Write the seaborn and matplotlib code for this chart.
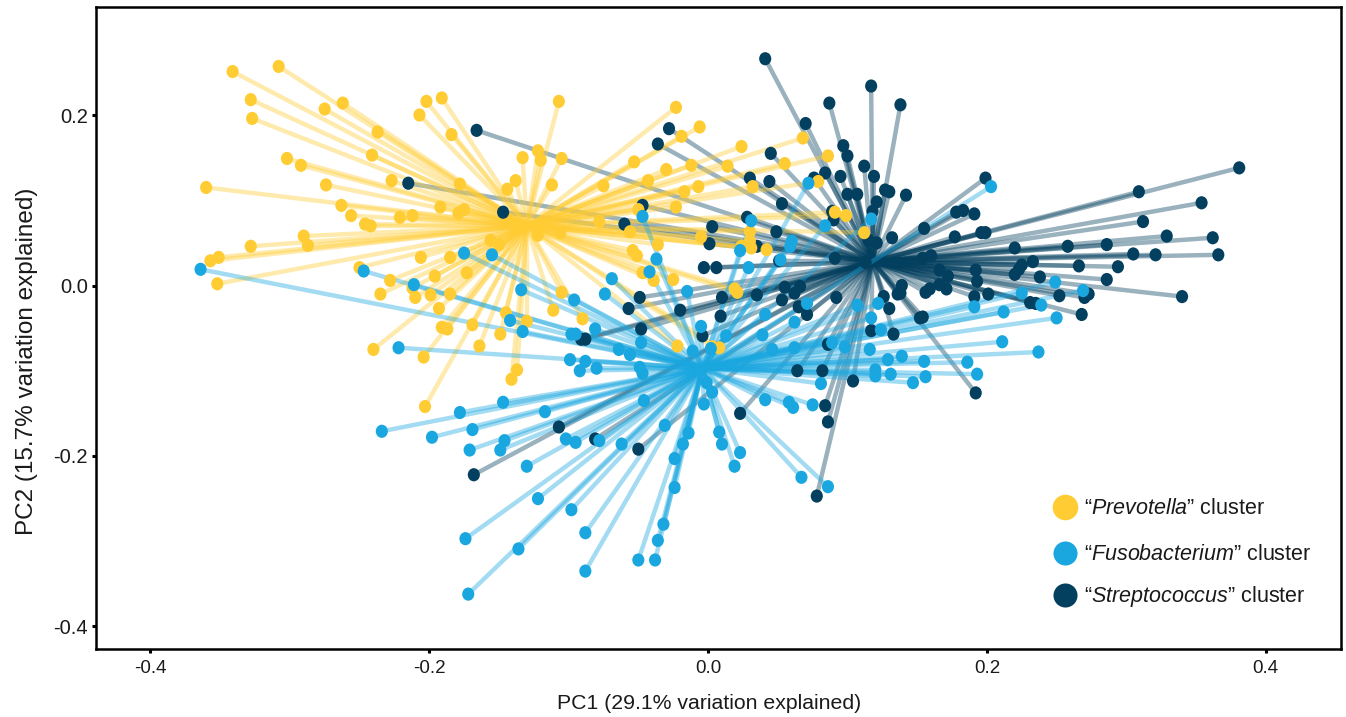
import matplotlib
matplotlib.use("Agg")
import matplotlib.pyplot as plt
import numpy as np
import pandas as pd
import seaborn as sns
from matplotlib.path import Path
from matplotlib.transforms import Affine2D

# PC scores
prev_x = [-0.341,-0.308,-0.328,-0.327,-0.275,-0.262,-0.237,-0.241,-0.202,-0.191,-0.207,-0.184,-0.107,-0.122,-0.133,-0.120,-0.105,-0.302,-0.292,-0.227,
          -0.178,-0.138,-0.144,-0.112,-0.360,-0.274,-0.263,-0.192,-0.175,-0.179,-0.256,-0.221,-0.212,-0.246,-0.242,-0.290,-0.287,-0.328,-0.351,-0.357,
          -0.156,-0.150,-0.122,-0.106,-0.206,-0.185,-0.250,-0.196,-0.173,-0.352,-0.228,-0.235,-0.210,-0.212,-0.199,-0.185,-0.193,-0.191,-0.187,-0.169,
          -0.149,-0.145,-0.130,-0.105,-0.111,-0.240,-0.204,-0.164,-0.137,-0.141,-0.203,-0.090,-0.023,-0.006,-0.019,0.024,0.068,0.086,-0.053,-0.030,
          -0.012,0.014,0.055,-0.075,-0.043,-0.017,-0.007,0.032,0.079,-0.023,-0.050,-0.078,0.091,0.099,-0.056,-0.036,-0.005,0.030,0.030,0.112,
          -0.054,-0.051,0.042,0.031,0.024,-0.047,-0.039,-0.025,0.019,0.021,-0.022,0.008,0.003]
prev_y = [0.251,0.257,0.218,0.196,0.207,0.214,0.180,0.153,0.216,0.220,0.200,0.177,0.216,0.158,0.150,0.147,0.149,0.149,0.141,0.123,
          0.119,0.123,0.113,0.118,0.115,0.118,0.094,0.092,0.089,0.085,0.082,0.080,0.082,0.072,0.070,0.058,0.047,0.046,0.033,0.029,
          0.053,0.048,0.059,0.062,0.033,0.033,0.021,0.011,0.015,0.002,0.006,-0.010,-0.014,-0.003,-0.011,-0.010,-0.027,-0.049,-0.051,-0.046,
          -0.057,-0.032,-0.042,-0.008,-0.029,-0.075,-0.084,-0.071,-0.099,-0.110,-0.142,-0.039,0.209,0.186,0.175,0.163,0.173,0.152,0.145,0.136,
          0.141,0.140,0.143,0.117,0.123,0.110,0.116,0.116,0.122,0.092,0.089,0.075,0.086,0.082,0.063,0.048,0.057,0.063,0.052,0.062,
          0.041,0.035,0.042,0.044,0.046,0.015,0.006,0.007,-0.004,-0.008,-0.071,-0.073,-0.072]

fuso_x = [-0.364,-0.247,-0.175,-0.155,-0.211,-0.134,-0.096,-0.142,-0.133,-0.098,-0.095,-0.222,-0.099,-0.092,-0.147,-0.178,-0.117,-0.234,-0.198,-0.169,
          -0.171,-0.146,-0.149,-0.130,-0.102,-0.095,-0.078,-0.062,-0.046,-0.031,-0.014,-0.018,-0.024,-0.024,-0.122,-0.098,-0.174,-0.136,-0.088,-0.088,
          -0.172,-0.032,-0.036,-0.050,-0.038,-0.003,0.003,0.008,0.010,0.023,0.019,-0.069,-0.042,-0.074,-0.015,-0.081,-0.048,-0.064,-0.056,-0.088,
          -0.080,-0.049,-0.047,-0.011,-0.005,0.002,0.013,0.039,0.041,0.062,0.071,0.046,0.062,0.089,0.098,0.107,0.122,0.117,0.124,0.116,
          0.129,0.139,0.155,0.120,0.120,0.131,0.156,0.147,0.081,-0.001,0.041,0.058,0.061,0.075,0.067,0.086,0.072,0.117,0.084,-0.047,
          0.031,0.060,0.059,0.023,-0.037,0.052,0.029,0.203,0.249,0.225,0.269,0.191,0.212,0.239,0.250,0.211,0.237,0.186,0.193]
fuso_y = [0.019,0.017,0.038,0.036,0.001,-0.005,-0.017,-0.041,-0.054,-0.057,-0.057,-0.073,-0.087,-0.100,-0.137,-0.149,-0.148,-0.171,-0.178,-0.169,
          -0.193,-0.182,-0.193,-0.212,-0.180,-0.184,-0.182,-0.186,-0.135,-0.164,-0.173,-0.186,-0.203,-0.237,-0.250,-0.263,-0.297,-0.309,-0.290,-0.335,
          -0.362,-0.280,-0.299,-0.322,-0.322,-0.139,-0.125,-0.172,-0.186,-0.196,-0.212,0.008,0.016,-0.010,-0.007,-0.051,-0.067,-0.075,-0.081,-0.089,
          -0.097,-0.096,-0.103,-0.077,-0.048,-0.074,-0.059,-0.058,-0.034,-0.043,-0.021,-0.075,-0.073,-0.067,-0.072,-0.023,-0.021,-0.038,-0.052,-0.075,
          -0.087,-0.083,-0.089,-0.099,-0.106,-0.104,-0.107,-0.114,-0.115,-0.114,-0.134,-0.137,-0.143,-0.140,-0.225,-0.236,0.120,0.078,0.070,0.081,
          0.076,0.052,0.046,0.041,0.031,0.030,0.021,0.116,0.004,-0.009,-0.006,-0.025,-0.031,-0.023,-0.038,-0.066,-0.078,-0.090,-0.104]

strep_x = [-0.166,-0.215,-0.147,0.041,0.117,0.087,0.138,0.070,0.097,0.100,-0.028,-0.036,0.045,0.112,0.084,0.095,0.119,0.030,0.044,0.076,
           0.127,0.130,0.100,0.107,0.142,0.053,0.121,-0.047,0.118,0.089,0.090,0.028,-0.060,0.003,0.049,0.115,0.121,0.132,0.155,0.178,
           0.177,0.001,0.035,0.091,0.051,-0.003,0.006,0.113,0.154,0.160,0.166,0.172,0.139,0.055,0.066,0.381,0.309,0.354,0.312,0.329,
           0.362,0.366,0.321,0.305,0.286,0.258,0.220,0.199,0.183,0.191,0.196,0.199,0.233,0.225,0.223,0.220,0.266,0.294,0.192,0.238,
           0.193,0.286,0.166,0.171,0.159,0.156,0.191,0.201,0.252,0.273,0.270,0.340,0.231,0.235,0.268,0.138,0.152,0.154,0.192,-0.049,
           -0.057,-0.020,0.010,0.009,0.035,0.053,0.062,0.065,0.071,0.092,0.126,0.136,0.130,0.117,0.133,-0.048,-0.004,-0.091,-0.088,0.086,
           0.064,0.082,0.104,0.084,0.086,0.023,0.078,-0.050,-0.081,-0.107,-0.168]
strep_y = [0.182,0.120,0.086,0.266,0.234,0.214,0.212,0.190,0.164,0.152,0.184,0.166,0.155,0.140,0.132,0.128,0.128,0.126,0.122,0.126,
           0.112,0.110,0.107,0.107,0.106,0.096,0.098,0.094,0.087,0.087,0.077,0.080,0.072,0.069,0.063,0.053,0.050,0.056,0.067,0.086,
           0.057,0.049,0.046,0.032,0.029,0.021,0.021,0.027,0.032,0.035,0.018,0.011,0.000,-0.002,-0.001,0.138,0.110,0.097,0.075,0.058,
           0.056,0.036,0.036,0.037,0.048,0.046,0.044,0.126,0.088,0.084,0.062,0.062,0.028,0.024,0.019,0.013,0.023,0.022,0.018,0.010,
           0.005,0.007,0.001,-0.004,-0.004,-0.008,-0.013,-0.010,-0.012,-0.010,-0.014,-0.013,-0.020,-0.021,-0.034,-0.009,-0.038,-0.037,-0.126,-0.014,
           -0.027,-0.029,-0.014,-0.036,-0.011,-0.017,-0.009,-0.025,-0.034,-0.014,-0.013,-0.010,-0.027,-0.053,-0.057,-0.051,-0.059,-0.063,-0.063,-0.069,
           -0.100,-0.100,-0.112,-0.141,-0.160,-0.150,-0.247,-0.192,-0.180,-0.166,-0.222]

# cluster centroids
centers = {"Prevotella": (-0.130, 0.070), "Fusobacterium": (-0.004, -0.097), "Streptococcus": (0.118, 0.028)}
colors = {"Prevotella": "#FFCC33", "Fusobacterium": "#1AA7E0", "Streptococcus": "#033F5E"}
scores = {"Prevotella": (prev_x, prev_y), "Fusobacterium": (fuso_x, fuso_y), "Streptococcus": (strep_x, strep_y)}

legend_y = {"Prevotella": -0.262, "Fusobacterium": -0.316, "Streptococcus": -0.365}
legend_dot_y = {"Prevotella": -0.260, "Fusobacterium": -0.314, "Streptococcus": -0.363}
legend_size = {"Prevotella": 340, "Fusobacterium": 300, "Streptococcus": 300}

plt.rcParams["font.family"] = ["Liberation Sans", "DejaVu Sans"]
plt.rcParams["axes.unicode_minus"] = False
plt.rcParams["mathtext.fontset"] = "custom"
plt.rcParams["mathtext.rm"] = "Liberation Sans"
plt.rcParams["mathtext.it"] = "Liberation Sans:italic"

frames = []
for name in ["Streptococcus", "Prevotella", "Fusobacterium"]:
    frames.append(pd.DataFrame({"PC1": scores[name][0], "PC2": scores[name][1], "cluster": name}))
df = pd.concat(frames, ignore_index=True)

fig = plt.figure(figsize=(13.46, 7.17), dpi=100)
ax = fig.add_axes([96 / 1346, 1 - 649 / 717, (1341 - 96) / 1346, (649 - 7) / 717])

### spider lines
for name in ["Streptococcus", "Prevotella", "Fusobacterium"]:
    cx, cy = centers[name]
    for x, y in zip(*scores[name]):
        ax.plot([cx, x], [cy, y], color=colors[name], lw=3.2, alpha=0.4,
                solid_capstyle="butt", zorder=1)

# points come out slightly taller than wide in the original
dot = Path.unit_circle().transformed(Affine2D().scale(0.92, 1))
sns.scatterplot(data=df, x="PC1", y="PC2", hue="cluster", palette=colors, marker=dot,
                s=90, linewidth=0, legend=False, ax=ax, zorder=3)

### legend drawn by hand, rows are not evenly spaced
for name in ["Prevotella", "Fusobacterium", "Streptococcus"]:
    ax.scatter([0.256], [legend_dot_y[name]], s=legend_size[name], color=colors[name], linewidth=0, zorder=4)
    ax.text(0.270, legend_y[name], "\u201c$\\mathit{%s}$\u201d cluster" % name, fontsize=15.5,
            va="center", ha="left", color="#1a1a1a", zorder=4)

ax.set_xlim(-0.439, 0.454)
ax.set_ylim(-0.4264, 0.3267)
ax.set_xticks([-0.4, -0.2, 0.0, 0.2, 0.4])
ax.set_yticks([-0.4, -0.2, 0.0, 0.2])
ax.set_xticklabels(["-0.4", "-0.2", "0.0", "0.2", "0.4"])
ax.set_yticklabels(["-0.4", "-0.2", "0.0", "0.2"])
ax.tick_params(axis="x", length=3, width=2.2, labelsize=13.5, pad=5, labelcolor="#1a1a1a")
ax.tick_params(axis="y", length=3, width=2.2, labelsize=14.5, pad=3, labelcolor="#1a1a1a")
ax.set_xlabel("PC1 (29.1% variation explained)", fontsize=15.3, color="#1a1a1a")
ax.set_ylabel("PC2 (15.7% variation explained)", fontsize=17.5, color="#1a1a1a")
ax.xaxis.set_label_coords(0.4924, -0.0700)
ax.yaxis.set_label_coords(-0.0466, 0.4486)
for s in ax.spines.values():
    s.set_linewidth(1.8)
    s.set_color("black")

fig.savefig("out.png", dpi=100, facecolor="white")
